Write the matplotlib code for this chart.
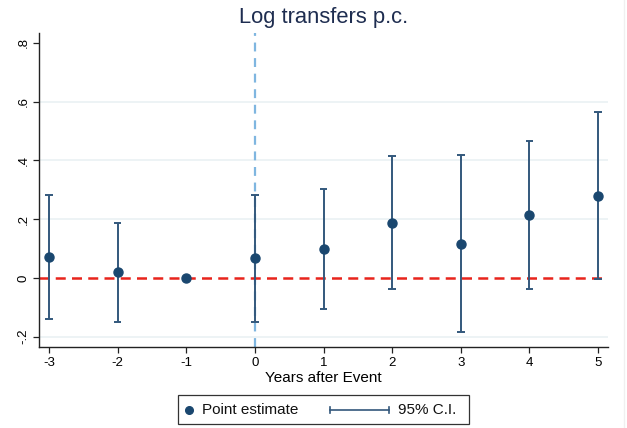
import numpy as np
import matplotlib
matplotlib.use("Agg")
import matplotlib.pyplot as plt
from matplotlib.lines import Line2D
from matplotlib.patches import Rectangle

# event-study estimates, years relative to event
years = [-3, -2, -1, 0, 1, 2, 3, 4, 5]
coef = [0.071, 0.019, 0.0, 0.067, 0.099, 0.187, 0.117, 0.213, 0.280]
ci_lo = [-0.141, -0.150, 0.0, -0.149, -0.105, -0.038, -0.184, -0.038, -0.003]
ci_hi = [0.283, 0.186, 0.0, 0.283, 0.303, 0.413, 0.419, 0.466, 0.564]
yticks = [-0.2, 0, 0.2, 0.4, 0.6, 0.8]
ytick_labels = ["-.2", "0", ".2", ".4", ".6", ".8"]

NAVY = "#1a476f"
BAR = "#33587c"
W, H = 627, 428

plt.rcParams["font.family"] = ["Liberation Sans", "DejaVu Sans"]

fig = plt.figure(figsize=(W / 100, H / 100), dpi=100)
ax = fig.add_axes([39 / W, 1 - 347 / H, (608 - 39) / W, (347 - 33) / H])

for y in [-0.2, 0.2, 0.4, 0.6]:
    ax.axhline(y, color="#eaf1f3", lw=1.2, zorder=0)

ax.axvline(0, color="#7fb6e0", lw=1.6, ls=(0, (4, 3)), zorder=1)
ax.axhline(0, color="#e8241c", lw=1.8, ls=(0, (4, 2.5)), zorder=2)

x = np.array(years)
lo = np.array(ci_lo)
hi = np.array(ci_hi)
mask = hi > lo
ax.vlines(x[mask], lo[mask], hi[mask], color=BAR, lw=1.4, zorder=3)
ax.hlines(lo[mask], x[mask] - 0.055, x[mask] + 0.055, color=BAR, lw=1.4, zorder=3)
ax.hlines(hi[mask], x[mask] - 0.055, x[mask] + 0.055, color=BAR, lw=1.4, zorder=3)
ax.plot(years, coef, "o", color=NAVY, ms=6.5, zorder=4)

ax.set_xlim(-3.146, 5.146)
ax.set_ylim(-0.235, 0.833)
ax.set_xticks(years)
ax.set_xticklabels([str(v) for v in years])
ax.set_yticks(yticks)
ax.set_yticklabels(ytick_labels, rotation=90, va="center")
ax.tick_params(labelsize=9.5, length=4, width=0.9, color="#222222", pad=3)

for s in ["top", "right"]:
    ax.spines[s].set_visible(False)
for s in ["left", "bottom"]:
    ax.spines[s].set_color("#222222")
    ax.spines[s].set_linewidth(1.0)

ax.set_xlabel("Years after Event", fontsize=11, labelpad=2)
ax.set_title("Log transfers p.c.", fontsize=15.8, color="#1e2d50", pad=7)

# legend box below the plot, laid out in pixel coordinates
def fx(px):
    return px / W

def fy(py):
    return 1 - py / H

fig.add_artist(Rectangle((fx(178), fy(424)), fx(469) - fx(178), fy(395) - fy(424),
                         fill=False, edgecolor="#333333", lw=0.9))
ly = fy(409.5)
fig.add_artist(Line2D([fx(189)], [ly], marker="o", color=NAVY, ms=5.5, ls="none"))
fig.text(fx(202), ly, "Point estimate", fontsize=11, va="center", ha="left", color="#111111")
fig.add_artist(Line2D([fx(330), fx(389)], [ly, ly], color=BAR, lw=1.2))
for cx in (330, 389):
    fig.add_artist(Line2D([fx(cx), fx(cx)], [fy(406.5), fy(412.5)], color=BAR, lw=1.2))
fig.text(fx(398), ly, "95% C.I.", fontsize=11, va="center", ha="left", color="#111111")

fig.add_artist(Line2D([fx(624), fx(624)], [0, 1], color="#f0f0f0", lw=1))

fig.savefig("out.png", dpi=100)
